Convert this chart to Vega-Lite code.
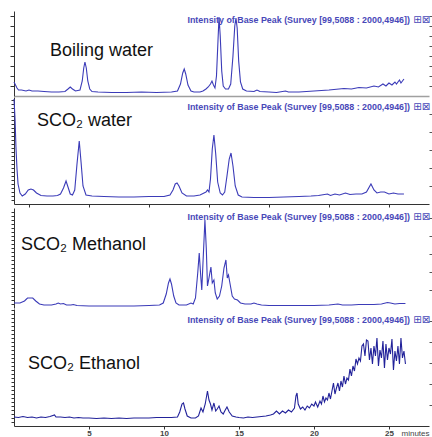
{
  "$schema": "https://vega.github.io/schema/vega-lite/v6.json",
  "padding": {"left": 9, "top": 11, "right": 0, "bottom": 0},
  "spacing": 0,
  "config": {"view": {"stroke": null}, "axis": {"grid": false}},
  "datasets": {
    "boiling": [
      {"t":0,"v":14},{"t":0.1,"v":11},{"t":0.2,"v":8},{"t":0.3,"v":6},{"t":0.5,"v":6},{"t":0.8,"v":5},{"t":1.0,"v":6},{"t":1.2,"v":5},{"t":1.6,"v":5},{"t":2.0,"v":4.5},{"t":2.5,"v":4},{"t":3.0,"v":4},{"t":3.4,"v":4.5},{"t":3.6,"v":7},{"t":3.75,"v":9},{"t":3.9,"v":7},{"t":4.1,"v":5},{"t":4.4,"v":6},{"t":4.55,"v":15},{"t":4.65,"v":28},{"t":4.73,"v":34},{"t":4.82,"v":28},{"t":4.92,"v":15},{"t":5.05,"v":7},{"t":5.2,"v":4.5},{"t":5.6,"v":4},{"t":6.5,"v":3.5},{"t":7.5,"v":3.5},{"t":8.5,"v":4},{"t":9.5,"v":3.5},{"t":10.5,"v":4},{"t":10.9,"v":5},{"t":11.1,"v":12},{"t":11.25,"v":23},{"t":11.35,"v":27},{"t":11.45,"v":22},{"t":11.6,"v":11},{"t":11.8,"v":5},{"t":12.0,"v":4},{"t":12.4,"v":4},{"t":12.6,"v":5},{"t":12.8,"v":7},{"t":12.95,"v":9},{"t":13.1,"v":12},{"t":13.2,"v":15},{"t":13.3,"v":11},{"t":13.4,"v":8},{"t":13.5,"v":20},{"t":13.6,"v":55},{"t":13.67,"v":79},{"t":13.75,"v":60},{"t":13.85,"v":25},{"t":13.95,"v":10},{"t":14.1,"v":7},{"t":14.3,"v":7},{"t":14.45,"v":12},{"t":14.6,"v":40},{"t":14.72,"v":70},{"t":14.8,"v":78},{"t":14.88,"v":68},{"t":14.98,"v":35},{"t":15.1,"v":14},{"t":15.25,"v":7},{"t":15.5,"v":5},{"t":16.0,"v":4.5},{"t":16.2,"v":6},{"t":16.4,"v":4.5},{"t":17,"v":4},{"t":17.5,"v":3.5},{"t":18.1,"v":5},{"t":18.3,"v":4},{"t":19,"v":4},{"t":20,"v":5},{"t":21,"v":6},{"t":22,"v":7.5},{"t":22.5,"v":7},{"t":23,"v":8.5},{"t":23.5,"v":8},{"t":24,"v":10},{"t":24.3,"v":9},{"t":24.6,"v":12},{"t":24.8,"v":10},{"t":25,"v":13},{"t":25.2,"v":11},{"t":25.4,"v":14},{"t":25.5,"v":12},{"t":25.7,"v":16},{"t":25.8,"v":13},{"t":26.0,"v":17}
    ],
    "water": [
      {"t":0,"v":105},{"t":0.07,"v":85},{"t":0.13,"v":57},{"t":0.2,"v":35},{"t":0.27,"v":20},{"t":0.4,"v":11},{"t":0.55,"v":8},{"t":0.75,"v":10},{"t":0.95,"v":14},{"t":1.13,"v":15},{"t":1.3,"v":14},{"t":1.5,"v":11},{"t":1.8,"v":8.5},{"t":2.2,"v":8},{"t":2.6,"v":8},{"t":2.9,"v":8.5},{"t":3.1,"v":10},{"t":3.3,"v":16},{"t":3.47,"v":23},{"t":3.6,"v":17},{"t":3.75,"v":10},{"t":3.9,"v":9},{"t":4.05,"v":14},{"t":4.2,"v":40},{"t":4.35,"v":63},{"t":4.47,"v":42},{"t":4.6,"v":18},{"t":4.8,"v":9},{"t":5.2,"v":8},{"t":6,"v":7.5},{"t":7,"v":7},{"t":8,"v":7},{"t":9,"v":7.5},{"t":10,"v":7.5},{"t":10.4,"v":9},{"t":10.6,"v":14},{"t":10.75,"v":20},{"t":10.87,"v":21},{"t":11.0,"v":18},{"t":11.2,"v":11},{"t":11.5,"v":8},{"t":12,"v":8},{"t":12.4,"v":9},{"t":12.67,"v":11},{"t":12.8,"v":12},{"t":12.9,"v":14},{"t":13.0,"v":12},{"t":13.1,"v":25},{"t":13.22,"v":55},{"t":13.33,"v":69},{"t":13.45,"v":50},{"t":13.58,"v":22},{"t":13.75,"v":11},{"t":13.9,"v":9},{"t":14.05,"v":12},{"t":14.2,"v":28},{"t":14.35,"v":45},{"t":14.47,"v":51},{"t":14.6,"v":38},{"t":14.75,"v":18},{"t":14.95,"v":9},{"t":15.2,"v":7},{"t":16,"v":6.5},{"t":17,"v":6.5},{"t":18,"v":7},{"t":19,"v":7.5},{"t":19.8,"v":8},{"t":20.3,"v":8.5},{"t":20.9,"v":10},{"t":21.1,"v":8.5},{"t":21.4,"v":10},{"t":21.7,"v":9},{"t":22.1,"v":11},{"t":22.4,"v":9.5},{"t":22.8,"v":10},{"t":23.2,"v":10},{"t":23.5,"v":12},{"t":23.8,"v":20},{"t":24.0,"v":14},{"t":24.2,"v":11},{"t":24.45,"v":12},{"t":24.7,"v":12},{"t":25.0,"v":10},{"t":25.3,"v":11},{"t":25.6,"v":10},{"t":26.0,"v":10}
    ],
    "methanol": [
      {"t":0,"v":5},{"t":0.4,"v":5},{"t":0.7,"v":7},{"t":0.9,"v":10},{"t":1.07,"v":10},{"t":1.25,"v":10},{"t":1.45,"v":7},{"t":1.7,"v":4},{"t":2.0,"v":3},{"t":2.5,"v":3},{"t":2.8,"v":4},{"t":2.95,"v":5},{"t":3.1,"v":4},{"t":3.3,"v":4.5},{"t":3.5,"v":3},{"t":3.8,"v":3},{"t":3.95,"v":3.5},{"t":4.2,"v":2.5},{"t":5,"v":2},{"t":6,"v":2},{"t":7,"v":2},{"t":8,"v":2},{"t":9,"v":2.5},{"t":9.7,"v":3},{"t":9.95,"v":5},{"t":10.15,"v":14},{"t":10.3,"v":25},{"t":10.4,"v":29},{"t":10.5,"v":24},{"t":10.65,"v":12},{"t":10.8,"v":5},{"t":11.0,"v":3},{"t":11.5,"v":3},{"t":11.8,"v":5},{"t":11.95,"v":4},{"t":12.1,"v":10},{"t":12.25,"v":35},{"t":12.35,"v":55},{"t":12.45,"v":32},{"t":12.52,"v":18},{"t":12.6,"v":45},{"t":12.73,"v":88},{"t":12.82,"v":60},{"t":12.9,"v":22},{"t":13.0,"v":30},{"t":13.13,"v":41},{"t":13.22,"v":25},{"t":13.33,"v":28},{"t":13.42,"v":15},{"t":13.55,"v":9},{"t":13.7,"v":12},{"t":13.85,"v":22},{"t":14.0,"v":40},{"t":14.13,"v":48},{"t":14.22,"v":30},{"t":14.3,"v":33},{"t":14.42,"v":23},{"t":14.55,"v":12},{"t":14.7,"v":9},{"t":14.9,"v":8},{"t":15.1,"v":5},{"t":15.4,"v":4},{"t":15.8,"v":4},{"t":16.0,"v":5},{"t":16.2,"v":4},{"t":16.5,"v":3},{"t":17,"v":2.5},{"t":18,"v":2.5},{"t":19,"v":2.5},{"t":20,"v":2.5},{"t":21,"v":3},{"t":21.6,"v":4},{"t":21.9,"v":3},{"t":22.5,"v":3},{"t":23,"v":3.5},{"t":24,"v":3.5},{"t":24.5,"v":4},{"t":24.9,"v":5.5},{"t":25.1,"v":5},{"t":25.4,"v":4},{"t":25.7,"v":4.5},{"t":26.1,"v":4.5}
    ],
    "ethanol": [
      {"t":0,"v":9},{"t":0.3,"v":8.5},{"t":0.6,"v":9.5},{"t":0.9,"v":8.5},{"t":1.2,"v":9},{"t":1.5,"v":8},{"t":1.8,"v":9},{"t":2.1,"v":8.5},{"t":2.4,"v":9.5},{"t":2.7,"v":11},{"t":2.8,"v":9},{"t":3.1,"v":9},{"t":3.4,"v":8.5},{"t":3.7,"v":9},{"t":4.0,"v":8},{"t":4.3,"v":8.5},{"t":4.6,"v":8},{"t":5,"v":8},{"t":5.5,"v":7.5},{"t":6,"v":8},{"t":6.5,"v":7.5},{"t":7,"v":8},{"t":7.5,"v":7.5},{"t":8,"v":8},{"t":8.5,"v":8},{"t":9,"v":8},{"t":9.5,"v":8.5},{"t":10,"v":8.5},{"t":10.5,"v":8.5},{"t":10.9,"v":9},{"t":11.05,"v":14},{"t":11.2,"v":22},{"t":11.3,"v":23},{"t":11.4,"v":17},{"t":11.55,"v":10},{"t":11.8,"v":8},{"t":12.1,"v":8},{"t":12.3,"v":10},{"t":12.47,"v":18},{"t":12.6,"v":14},{"t":12.75,"v":22},{"t":12.9,"v":35},{"t":13.0,"v":26},{"t":13.1,"v":22},{"t":13.2,"v":16},{"t":13.33,"v":23},{"t":13.45,"v":15},{"t":13.55,"v":17},{"t":13.67,"v":20},{"t":13.8,"v":14},{"t":13.95,"v":12},{"t":14.05,"v":15},{"t":14.2,"v":19},{"t":14.35,"v":14},{"t":14.55,"v":10},{"t":14.8,"v":9},{"t":15.0,"v":8.5},{"t":15.3,"v":8},{"t":15.6,"v":9},{"t":15.9,"v":8.5},{"t":16.2,"v":9},{"t":16.5,"v":9.5},{"t":16.8,"v":10},{"t":17.1,"v":11},{"t":17.3,"v":12},{"t":17.5,"v":15},{"t":17.7,"v":12},{"t":17.9,"v":15},{"t":18.1,"v":13},{"t":18.3,"v":16},{"t":18.5,"v":14},{"t":18.7,"v":18},{"t":18.8,"v":30},{"t":18.87,"v":33},{"t":18.95,"v":22},{"t":19.1,"v":17},{"t":19.25,"v":19},{"t":19.4,"v":16},{"t":19.55,"v":20},{"t":19.7,"v":18},{"t":19.85,"v":22},{"t":20.0,"v":20},{"t":20.1,"v":24},{"t":20.25,"v":19},{"t":20.4,"v":25},{"t":20.5,"v":22},{"t":20.6,"v":30},{"t":20.7,"v":24},{"t":20.8,"v":28},{"t":20.9,"v":26},{"t":21.0,"v":33},{"t":21.1,"v":27},{"t":21.2,"v":35},{"t":21.3,"v":43},{"t":21.4,"v":32},{"t":21.5,"v":38},{"t":21.6,"v":43},{"t":21.7,"v":35},{"t":21.8,"v":45},{"t":21.9,"v":39},{"t":22.0,"v":50},{"t":22.1,"v":42},{"t":22.2,"v":48},{"t":22.3,"v":46},{"t":22.4,"v":57},{"t":22.5,"v":50},{"t":22.6,"v":60},{"t":22.7,"v":55},{"t":22.8,"v":67},{"t":22.9,"v":62},{"t":23.0,"v":68},{"t":23.1,"v":65},{"t":23.2,"v":80},{"t":23.3,"v":82},{"t":23.4,"v":70},{"t":23.5,"v":86},{"t":23.6,"v":85},{"t":23.7,"v":66},{"t":23.8,"v":78},{"t":23.9,"v":62},{"t":24.0,"v":80},{"t":24.1,"v":70},{"t":24.2,"v":88},{"t":24.3,"v":60},{"t":24.4,"v":76},{"t":24.5,"v":68},{"t":24.6,"v":85},{"t":24.7,"v":58},{"t":24.8,"v":82},{"t":24.9,"v":66},{"t":25.0,"v":78},{"t":25.1,"v":72},{"t":25.2,"v":87},{"t":25.3,"v":56},{"t":25.4,"v":75},{"t":25.5,"v":65},{"t":25.6,"v":80},{"t":25.7,"v":62},{"t":25.8,"v":88},{"t":25.9,"v":68},{"t":26.0,"v":75},{"t":26.1,"v":62}
    ],
    "labels": [
      {"panel":"boiling","label":"Boiling water","header":"Intensity of Base Peak (Survey [99,5088 : 2000,4946])","icon":"⊞⊠"},
      {"panel":"water","label":"SCO₂ water","header":"Intensity of Base Peak (Survey [99,5088 : 2000,4946])","icon":"⊞⊠"},
      {"panel":"methanol","label":"SCO₂ Methanol","header":"Intensity of Base Peak (Survey [99,5088 : 2000,4946])","icon":"⊞⊠"},
      {"panel":"ethanol","label":"SCO₂ Ethanol","header":"Intensity of Base Peak (Survey [99,5088 : 2000,4946])","icon":"⊞⊠"}
    ]
  },
  "vconcat": [
    {
      "width": 415, "height": 85,
      "layer": [
        {"data": {"name": "boiling"}, "mark": {"type": "line", "color": "#3b3bb8", "strokeWidth": 1.1},
         "encoding": {
           "x": {"field": "t", "type": "quantitative", "scale": {"domain": [0, 27.67], "nice": false, "zero": false},
                 "axis": {"ticks": false, "labels": false, "title": null, "domainColor": "#a0a0a0", "domainWidth": 1.5}},
           "y": {"field": "v", "type": "quantitative", "scale": {"domain": [0, 85], "nice": false},
                 "axis": {"orient": "left", "values": [10,20,30,40,50,60,70,80], "labels": false, "title": null, "tickSize": 4, "domainColor": "#333", "tickColor": "#333"}}}},
        {"data": {"name": "boiling"}, "mark": {"type": "line", "strokeOpacity": 0},
         "encoding": {"x": {"field": "t", "type": "quantitative"},
           "y": {"field": "v", "type": "quantitative", "axis": {"orient": "right", "values": [10,20,30,40,50,60,70,80], "labels": false, "title": null, "domain": false, "tickSize": 3, "tickColor": "#555"}}}},
        {"data": {"name": "labels"}, "transform": [{"filter": "datum.panel === 'boiling'"}],
         "mark": {"type": "text", "align": "left", "baseline": "alphabetic", "fontSize": 18, "font": "Liberation Sans", "color": "#111"},
         "encoding": {"x": {"datum": 2.4}, "y": {"datum": 40, "axis": null}, "text": {"field": "label"}}},
        {"data": {"name": "labels"}, "transform": [{"filter": "datum.panel === 'boiling'"}],
         "mark": {"type": "text", "align": "right", "baseline": "alphabetic", "fontSize": 8.9, "fontWeight": "bold", "font": "Liberation Sans", "color": "#4848b8"},
         "encoding": {"x": {"datum": 26.4}, "y": {"datum": 73, "axis": null}, "text": {"field": "header"}}},
        {"data": {"name": "labels"}, "transform": [{"filter": "datum.panel === 'boiling'"}],
         "mark": {"type": "text", "align": "left", "baseline": "alphabetic", "fontSize": 10, "font": "DejaVu Sans", "color": "#4848b8"},
         "encoding": {"x": {"datum": 26.62}, "y": {"datum": 73, "axis": null}, "text": {"field": "icon"}}}
      ],
      "resolve": {"axis": {"y": "independent"}}
    },
    {
      "width": 415, "height": 107,
      "layer": [
        {"data": {"name": "water"}, "mark": {"type": "line", "color": "#3b3bb8", "strokeWidth": 1.1},
         "encoding": {
           "x": {"field": "t", "type": "quantitative", "scale": {"domain": [0, 27.67], "nice": false, "zero": false},
                 "axis": {"values": [1,2,3,4,5,6,7,8,9,10,11,12,13,14,15,16,17,18,19,20,21,22,23,24,25,26,27], "labels": false, "title": null, "tickSize": 3, "domainColor": "#333", "tickColor": "#333"}},
           "y": {"field": "v", "type": "quantitative", "scale": {"domain": [0, 107], "nice": false},
                 "axis": {"orient": "left", "values": [4,8,12,16,20,24,28,32,36,40,44,48,52,56,60,64,68,72,76,80,84,88,92,96,100,104], "labels": false, "title": null, "tickSize": 3, "domainColor": "#333", "tickColor": "#333"}}}},
        {"data": {"name": "water"}, "mark": {"type": "line", "strokeOpacity": 0},
         "encoding": {"x": {"field": "t", "type": "quantitative"},
           "y": {"field": "v", "type": "quantitative", "axis": {"orient": "right", "values": [18,36,54,72,90], "labels": false, "title": null, "domain": false, "tickSize": 3, "tickColor": "#555"}}}},
        {"data": {"name": "labels"}, "transform": [{"filter": "datum.panel === 'water'"}],
         "mark": {"type": "text", "align": "left", "baseline": "alphabetic", "fontSize": 18, "font": "Liberation Sans", "color": "#111"},
         "encoding": {"x": {"datum": 1.53}, "y": {"datum": 78, "axis": null}, "text": {"field": "label"}}},
        {"data": {"name": "labels"}, "transform": [{"filter": "datum.panel === 'water'"}],
         "mark": {"type": "text", "align": "right", "baseline": "alphabetic", "fontSize": 8.9, "fontWeight": "bold", "font": "Liberation Sans", "color": "#4848b8"},
         "encoding": {"x": {"datum": 26.4}, "y": {"datum": 94, "axis": null}, "text": {"field": "header"}}},
        {"data": {"name": "labels"}, "transform": [{"filter": "datum.panel === 'water'"}],
         "mark": {"type": "text", "align": "left", "baseline": "alphabetic", "fontSize": 10, "font": "DejaVu Sans", "color": "#4848b8"},
         "encoding": {"x": {"datum": 26.62}, "y": {"datum": 94, "axis": null}, "text": {"field": "icon"}}}
      ],
      "resolve": {"axis": {"y": "independent"}}
    },
    {
      "width": 415, "height": 100,
      "layer": [
        {"data": {"name": "methanol"}, "mark": {"type": "line", "color": "#3b3bb8", "strokeWidth": 1.1},
         "encoding": {
           "x": {"field": "t", "type": "quantitative", "scale": {"domain": [0, 27.67], "nice": false, "zero": false}, "axis": null},
           "y": {"field": "v", "type": "quantitative", "scale": {"domain": [0, 100], "nice": false},
                 "axis": {"orient": "left", "values": [4,8,12,16,20,24,28,32,36,40,44,48,52,56,60,64,68,72,76,80,84,88,92,96], "labels": false, "title": null, "tickSize": 3, "domainColor": "#333", "tickColor": "#333"}}}},
        {"data": {"name": "methanol"}, "mark": {"type": "line", "strokeOpacity": 0},
         "encoding": {"x": {"field": "t", "type": "quantitative"},
           "y": {"field": "v", "type": "quantitative", "axis": {"orient": "right", "values": [18,36,54,72,90], "labels": false, "title": null, "domain": false, "tickSize": 3, "tickColor": "#555"}}}},
        {"data": {"name": "labels"}, "transform": [{"filter": "datum.panel === 'methanol'"}],
         "mark": {"type": "text", "align": "left", "baseline": "alphabetic", "fontSize": 18, "font": "Liberation Sans", "color": "#111"},
         "encoding": {"x": {"datum": 0.47}, "y": {"datum": 58, "axis": null}, "text": {"field": "label"}}},
        {"data": {"name": "labels"}, "transform": [{"filter": "datum.panel === 'methanol'"}],
         "mark": {"type": "text", "align": "right", "baseline": "alphabetic", "fontSize": 8.9, "fontWeight": "bold", "font": "Liberation Sans", "color": "#4848b8"},
         "encoding": {"x": {"datum": 26.4}, "y": {"datum": 88, "axis": null}, "text": {"field": "header"}}},
        {"data": {"name": "labels"}, "transform": [{"filter": "datum.panel === 'methanol'"}],
         "mark": {"type": "text", "align": "left", "baseline": "alphabetic", "fontSize": 10, "font": "DejaVu Sans", "color": "#4848b8"},
         "encoding": {"x": {"datum": 26.62}, "y": {"datum": 88, "axis": null}, "text": {"field": "icon"}}}
      ],
      "resolve": {"axis": {"y": "independent"}}
    },
    {
      "width": 415, "height": 117,
      "layer": [
        {"data": {"name": "ethanol"}, "mark": {"type": "line", "color": "#22229a", "strokeWidth": 1.1},
         "encoding": {
           "x": {"field": "t", "type": "quantitative", "scale": {"domain": [0, 27.67], "nice": false, "zero": false},
                 "axis": {"values": [5,10,15,20,25],
                          "labelOverlap": false, "labelFlush": false, "labelFont": "Liberation Sans", "labelFontWeight": "bold", "labelFontSize": 8, "labelColor": "#444", "labelPadding": 0,
                          "title": "minutes", "titleAnchor": "end", "titleFont": "Liberation Sans", "titleFontWeight": "normal", "titleFontSize": 8, "titleColor": "#444", "titlePadding": -8,
                          "tickSize": 3, "domainColor": "#333", "tickColor": "#333"}},
           "y": {"field": "v", "type": "quantitative", "scale": {"domain": [0, 117], "nice": false},
                 "axis": {"orient": "left", "values": [4,8,12,16,20,24,28,32,36,40,44,48,52,56,60,64,68,72,76,80,84,88,92,96,100,104,108,112,116], "labels": false, "title": null, "tickSize": 3, "domainColor": "#333", "tickColor": "#333"}}}},
        {"data": {"name": "ethanol"}, "mark": {"type": "line", "strokeOpacity": 0},
         "encoding": {"x": {"field": "t", "type": "quantitative"},
           "y": {"field": "v", "type": "quantitative", "axis": {"orient": "right", "values": [21,42,63,84,105], "labels": false, "title": null, "domain": false, "tickSize": 3, "tickColor": "#555"}}}},
        {"data": {"name": "labels"}, "transform": [{"filter": "datum.panel === 'ethanol'"}],
         "mark": {"type": "text", "align": "left", "baseline": "alphabetic", "fontSize": 18, "font": "Liberation Sans", "color": "#111"},
         "encoding": {"x": {"datum": 0.93}, "y": {"datum": 57, "axis": null}, "text": {"field": "label"}}},
        {"data": {"name": "labels"}, "transform": [{"filter": "datum.panel === 'ethanol'"}],
         "mark": {"type": "text", "align": "right", "baseline": "alphabetic", "fontSize": 8.9, "fontWeight": "bold", "font": "Liberation Sans", "color": "#4848b8"},
         "encoding": {"x": {"datum": 26.4}, "y": {"datum": 103, "axis": null}, "text": {"field": "header"}}},
        {"data": {"name": "labels"}, "transform": [{"filter": "datum.panel === 'ethanol'"}],
         "mark": {"type": "text", "align": "left", "baseline": "alphabetic", "fontSize": 10, "font": "DejaVu Sans", "color": "#4848b8"},
         "encoding": {"x": {"datum": 26.62}, "y": {"datum": 103, "axis": null}, "text": {"field": "icon"}}}
      ],
      "resolve": {"axis": {"y": "independent"}}
    }
  ]
}
